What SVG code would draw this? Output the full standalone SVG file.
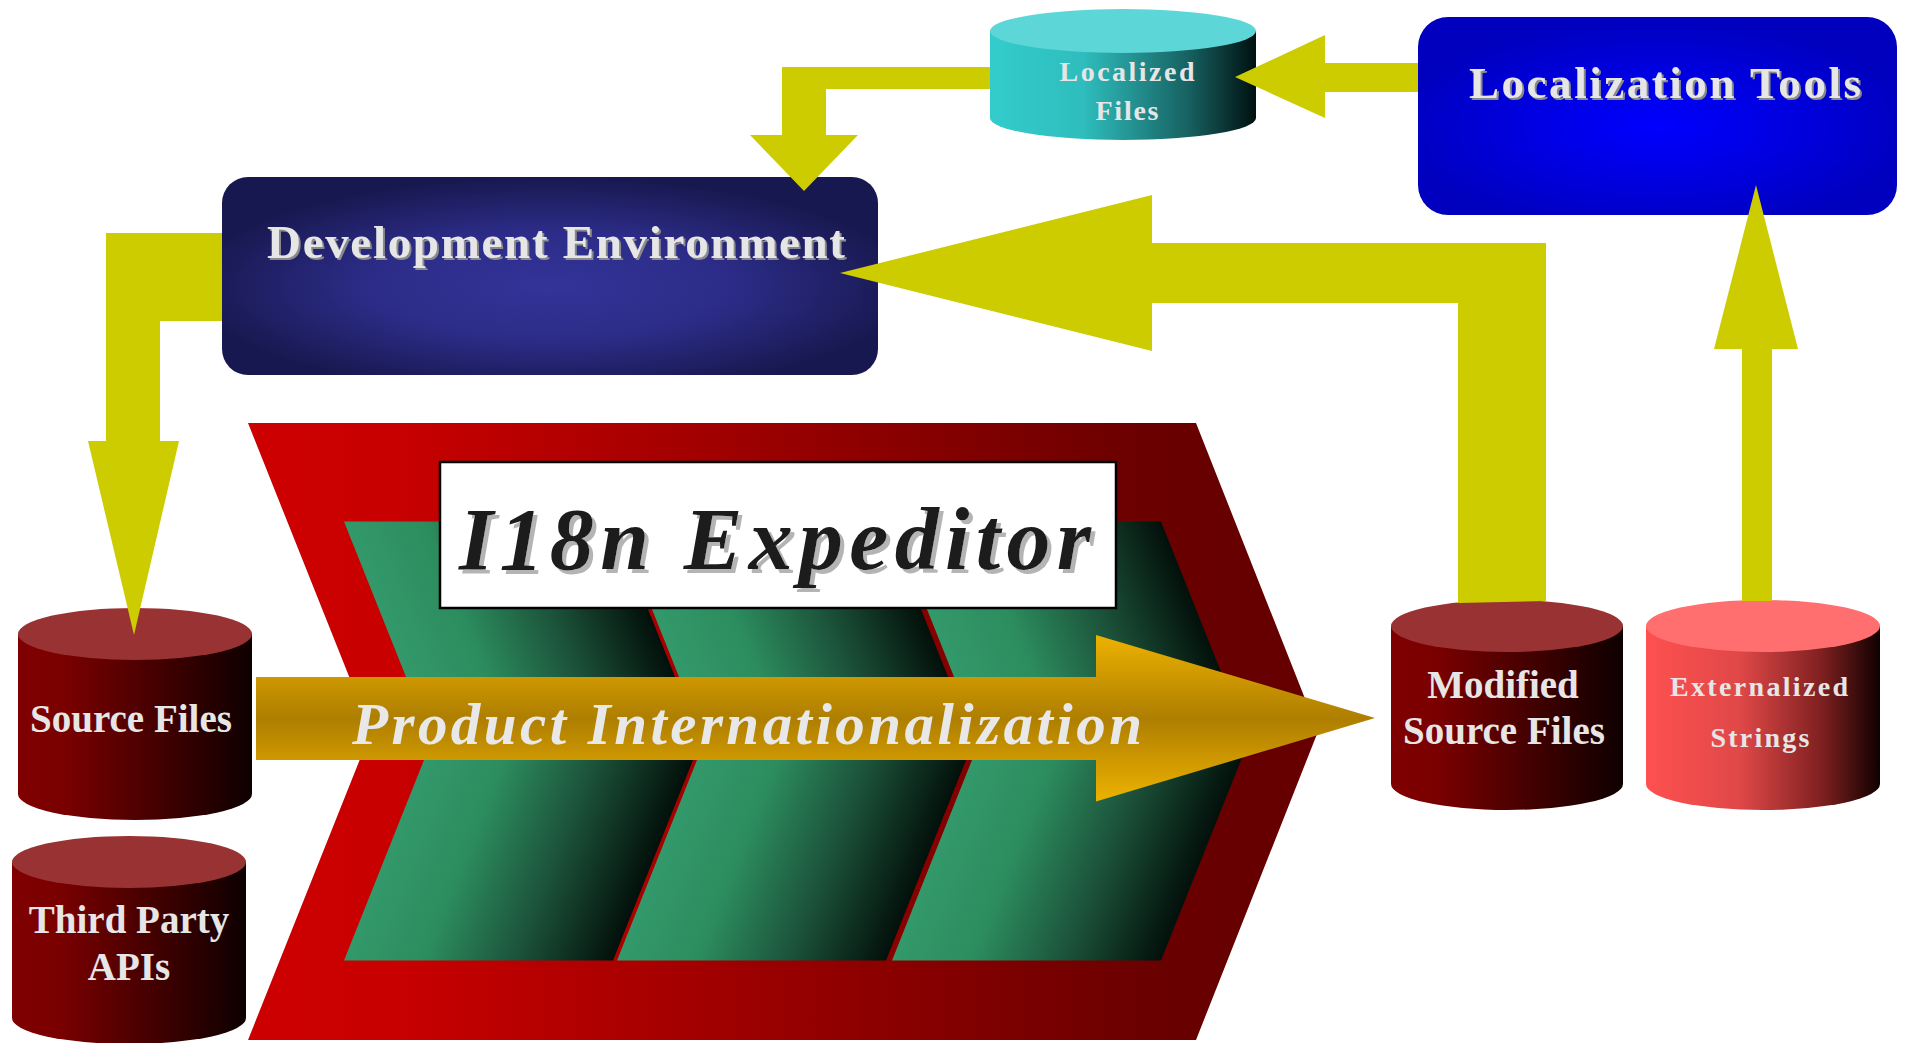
<svg xmlns="http://www.w3.org/2000/svg" xmlns:xlink="http://www.w3.org/1999/xlink" width="1905" height="1043" viewBox="0 0 1905 1043">
<defs>
<style>
.lbl{font-family:"Liberation Serif","Times New Roman",serif;font-weight:bold;fill:#E6E6E6;text-anchor:middle}
.conn{fill:#CCCC00}
.redtop{fill:#993333}
</style>
<filter id="shTitle" x="-5%" y="-20%" width="110%" height="140%">
<feDropShadow dx="4" dy="4" stdDeviation="0" flood-color="#B4B4B4" flood-opacity="1"/>
</filter>
<filter id="shBox" x="-5%" y="-20%" width="110%" height="140%">
<feDropShadow dx="2" dy="2" stdDeviation="0" flood-color="#8A8A8A" flood-opacity="1"/>
</filter>
<linearGradient id="gRed" gradientUnits="userSpaceOnUse" x1="300" y1="0" x2="1250" y2="0">
<stop offset="0" stop-color="#CC0000"/><stop offset="0.1" stop-color="#C80000"/><stop offset="0.9" stop-color="#6A0000"/><stop offset="1" stop-color="#660000"/>
</linearGradient>
<linearGradient id="gGreenU" gradientUnits="userSpaceOnUse" x1="135.4" y1="0" x2="405.4" y2="0" gradientTransform="skewX(21.8014)">
<stop offset="0" stop-color="#33996A"/><stop offset="0.3" stop-color="#2C8C5E"/><stop offset="0.65" stop-color="#1B5038"/><stop offset="1" stop-color="#020F0A"/>
</linearGradient>
<linearGradient id="gGreenL" gradientUnits="userSpaceOnUse" x1="728.2" y1="0" x2="998.2" y2="0" gradientTransform="skewX(-21.8014)">
<stop offset="0" stop-color="#33996A"/><stop offset="0.3" stop-color="#2C8C5E"/><stop offset="0.65" stop-color="#1B5038"/><stop offset="1" stop-color="#020F0A"/>
</linearGradient>
<linearGradient id="gGold" x1="0" y1="0" x2="0" y2="1">
<stop offset="0" stop-color="#EDB200"/><stop offset="0.5" stop-color="#AE7E00"/><stop offset="1" stop-color="#EDB200"/>
</linearGradient>
<linearGradient id="gCylRed" x1="0" y1="0" x2="1" y2="0">
<stop offset="0" stop-color="#800000"/><stop offset="0.2" stop-color="#7A0000"/><stop offset="1" stop-color="#0E0000"/>
</linearGradient>
<linearGradient id="gCylPink" x1="0" y1="0" x2="1" y2="0">
<stop offset="0" stop-color="#FF5050"/><stop offset="0.4" stop-color="#E04848"/><stop offset="0.75" stop-color="#802020"/><stop offset="1" stop-color="#100000"/>
</linearGradient>
<linearGradient id="gCylCyan" x1="0" y1="0" x2="1" y2="0">
<stop offset="0" stop-color="#33CCCC"/><stop offset="0.35" stop-color="#2FBDBD"/><stop offset="0.75" stop-color="#176060"/><stop offset="1" stop-color="#001010"/>
</linearGradient>
<radialGradient id="gDev" cx="0.5" cy="0.55" r="0.55">
<stop offset="0" stop-color="#333399"/><stop offset="0.5" stop-color="#2C2C88"/><stop offset="1" stop-color="#181850"/>
</radialGradient>
<radialGradient id="gLoc" cx="0.5" cy="0.55" r="0.55">
<stop offset="0" stop-color="#0000FF"/><stop offset="0.55" stop-color="#0000DD"/><stop offset="1" stop-color="#0000BE"/>
</radialGradient>
</defs>

<g id="i18n-expeditor">
<polygon points="248,423 1196,423 1318,731.5 1196,1040 248,1040 371,731.5" fill="url(#gRed)"/>
<g id="band1">
<polygon points="344,521.5 613,521.5 700.8,741.5 431.8,741.5" fill="url(#gGreenU)"/>
<polygon points="431.8,740.5 700.8,740.5 613,960.5 344,960.5" fill="url(#gGreenL)"/>
</g>
<use xlink:href="#band1" href="#band1" transform="translate(273,0)"/>
<use xlink:href="#band1" href="#band1" transform="translate(548,0)"/>
<rect x="440" y="462" width="676" height="146" fill="#FFFFFF" stroke="#000000" stroke-width="2.5"/>
<text x="459" y="569" font-family="Liberation Serif, Times New Roman, serif" font-weight="bold" font-style="italic" font-size="88" fill="#1A1A1A" textLength="632" lengthAdjust="spacing" filter="url(#shTitle)">I18n Expeditor</text>
</g>

<g id="product-internationalization">
<polygon points="256,677 1096,677 1096,635 1375,718 1096,801.5 1096,760 256,760" fill="url(#gGold)"/>
<text x="352" y="744" font-family="Liberation Serif, Times New Roman, serif" font-weight="bold" font-style="italic" font-size="59" fill="#E8E8E8" textLength="790" lengthAdjust="spacing">Product Internationalization</text>
</g>

<g id="development-environment">
<rect x="222" y="177" width="656" height="198" rx="26" ry="26" fill="url(#gDev)"/>
<text class="lbl" x="556" y="258" font-size="47" textLength="578" lengthAdjust="spacing" filter="url(#shBox)">Development Environment</text>
</g>

<g id="localization-tools">
<rect x="1418" y="17" width="479" height="198" rx="30" ry="30" fill="url(#gLoc)"/>
<text class="lbl" x="1665" y="98" font-size="45" textLength="392" lengthAdjust="spacing" filter="url(#shBox)">Localization Tools</text>
</g>

<g id="localized-files">
<path d="M990,31 L990,118 A133,22 0 0 0 1256,118 L1256,31 Z" fill="url(#gCylCyan)"/>
<ellipse cx="1123" cy="31" rx="133" ry="22" fill="#5CD6D6"/>
<text class="lbl" x="1127" y="81" font-size="28" textLength="135" lengthAdjust="spacing">Localized</text>
<text class="lbl" x="1127" y="120" font-size="28" textLength="63" lengthAdjust="spacing">Files</text>
</g>

<g id="source-files">
<path d="M18,634 L18,794 A117,26 0 0 0 252,794 L252,634 Z" fill="url(#gCylRed)"/>
<ellipse class="redtop" cx="135" cy="634" rx="117" ry="26"/>
<text class="lbl" x="131" y="732" font-size="39">Source Files</text>
</g>

<g id="third-party-apis">
<path d="M12,862 L12,1018 A117,26 0 0 0 246,1018 L246,862 Z" fill="url(#gCylRed)"/>
<ellipse class="redtop" cx="129" cy="862" rx="117" ry="26"/>
<text class="lbl" x="129" y="933" font-size="39">Third Party</text>
<text class="lbl" x="129" y="980" font-size="39">APIs</text>
</g>

<g id="modified-source-files">
<path d="M1391,626 L1391,784 A116,26 0 0 0 1623,784 L1623,626 Z" fill="url(#gCylRed)"/>
<ellipse class="redtop" cx="1507" cy="626" rx="116" ry="26"/>
<text class="lbl" x="1503" y="698" font-size="39">Modified</text>
<text class="lbl" x="1504" y="744" font-size="39">Source Files</text>
</g>

<g id="externalized-strings">
<path d="M1646,626 L1646,784 A117,26 0 0 0 1880,784 L1880,626 Z" fill="url(#gCylPink)"/>
<ellipse cx="1763" cy="626" rx="117" ry="26" fill="#FF6F6F"/>
<text class="lbl" x="1759" y="696" font-size="28" textLength="178" lengthAdjust="spacing">Externalized</text>
<text class="lbl" x="1760" y="747" font-size="28" textLength="99" lengthAdjust="spacing">Strings</text>
</g>

<g id="connectors">
<polygon class="conn" points="1418,63 1325,63 1325,35 1235,77 1325,118 1325,92 1418,92"/>
<polygon class="conn" points="990,67 782,67 782,135 750,135 804,191 858,135 826,135 826,89 990,89"/>
<polygon class="conn" points="222,233 106,233 106,441 88,441 134,635 179,441 160,441 160,321 222,321"/>
<polygon class="conn" points="1546,601 1546,243 1152,243 1152,195 840,273 1152,351 1152,303 1458,303 1458,603"/>
<polygon class="conn" points="1742,601 1742,349 1714,349 1756,185 1798,349 1772,349 1772,601"/>
</g>
</svg>
